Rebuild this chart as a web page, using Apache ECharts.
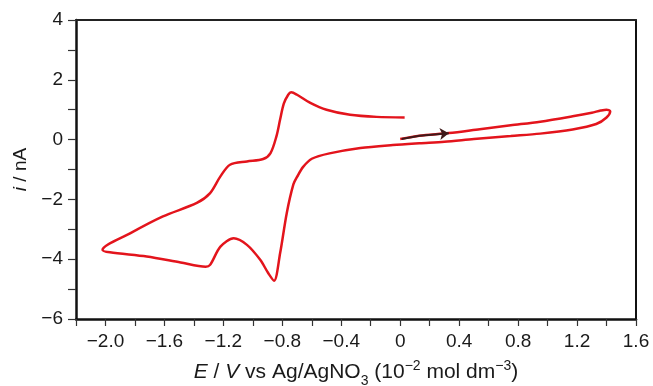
<!DOCTYPE html>
<html>
<head>
<meta charset="utf-8">
<script src="https://cdn.jsdelivr.net/npm/echarts@6/dist/echarts.min.js"></script>
<style>
html,body{margin:0;padding:0;background:#fff;}
#chart{width:653px;height:386px;}
</style>
</head>
<body>
<div id="chart"></div>
<script>
// Cyclic voltammogram trace, in scan order (E / V, i / nA)
var cvPotential = [0.00, 0.13, 0.33, 0.54, 0.75, 0.95, 1.17, 1.30, 1.36, 1.40, 1.425, 1.40, 1.33, 1.17, 0.95, 0.75, 0.50, 0.30, 0.13, -0.05, -0.27, -0.48, -0.60, -0.66, -0.70, -0.725, -0.77, -0.815, -0.856, -0.895, -0.95, -1.04, -1.13, -1.22, -1.29, -1.32, -1.49, -1.72, -1.97, -2.02, -1.83, -1.61, -1.38, -1.29, -1.22, -1.155, -1.04, -0.93, -0.88, -0.84, -0.815, -0.79, -0.76, -0.74, -0.70, -0.61, -0.50, -0.34, -0.16, 0.03];
var cvCurrent   = [0.02, 0.13, 0.22, 0.35, 0.48, 0.60, 0.78, 0.90, 0.97, 1.00, 0.95, 0.74, 0.52, 0.34, 0.20, 0.12, 0.02, -0.07, -0.12, -0.18, -0.28, -0.46, -0.64, -0.92, -1.25, -1.50, -2.46, -3.80, -4.72, -4.47, -4.02, -3.52, -3.30, -3.58, -4.19, -4.25, -4.11, -3.91, -3.77, -3.69, -3.13, -2.57, -2.12, -1.79, -1.23, -0.84, -0.73, -0.65, -0.45, 0.11, 0.67, 1.20, 1.50, 1.58, 1.50, 1.23, 1.00, 0.83, 0.76, 0.74];
// Scan-direction arrow (shaft, then head segment)
var arrowPotential = [0.01, 0.13, 0.27, 0.33];
var arrowCurrent   = [0.02, 0.13, 0.19, 0.215];
// Labelled ticks
var xLabelValues = [-2.0, -1.6, -1.2, -0.8, -0.4, 0, 0.4, 0.8, 1.2, 1.6];
var yLabelValues = [-6, -4, -2, 0, 2, 4];

var cvData = cvPotential.map(function (e, k) { return [e, cvCurrent[k]]; });
var arrowCoords = arrowPotential.map(function (e, k) { return [e, arrowCurrent[k]]; });
var n = arrowCoords.length;

function isLabelled(v, list) {
  for (var k = 0; k < list.length; k++) { if (Math.abs(list[k] - v) < 1e-6) return true; }
  return false;
}
function fmtX(v) {
  if (!isLabelled(v, xLabelValues)) return '';
  if (Math.abs(v) < 1e-9) return '0';
  return v.toFixed(1).replace('-', '\u2212');
}
function fmtY(v) {
  if (!isLabelled(v, yLabelValues)) return '';
  return String(v).replace('-', '\u2212');
}

var FONT = '"Liberation Sans", Arial, Helvetica, sans-serif';
var TXT = '#1a1a1a';
var FS = 19;
var TFS = 21;
var chart = echarts.init(document.getElementById('chart'), null, {renderer: 'canvas'});
chart.setOption({
  animation: false,
  backgroundColor: '#ffffff',
  grid: {left: 76, right: 17, top: 20, bottom: 67, containLabel: false, outerBoundsMode: 'none'},
  xAxis: [{
    type: 'value', min: -2.2, max: 1.6, interval: 0.2, position: 'bottom',
    axisLine: {show: true, onZero: false, lineStyle: {color: '#111', width: 2.5}},
    axisTick: {show: true, inside: false, length: 7, lineStyle: {color: '#333', width: 1.2}},
    axisLabel: {show: true, margin: 13, formatter: fmtX, fontSize: FS, fontFamily: FONT, color: TXT, showMinLabel: true, showMaxLabel: true, hideOverlap: false},
    splitLine: {show: false},
    name: '{i|E} / {i|V} vs Ag/AgNO{sub|3} (10{sup|\u22122} mol dm{sup|\u22123})',
    nameLocation: 'middle', nameGap: 40,
    nameTextStyle: {fontSize: TFS, fontFamily: FONT, color: TXT, lineHeight: 26,
      rich: {
        i: {fontStyle: 'italic', fontSize: TFS, fontFamily: FONT, color: TXT, lineHeight: 26},
        sub: {fontSize: 14, fontFamily: FONT, color: TXT, verticalAlign: 'bottom', lineHeight: 26, padding: [0, 0, -3, 0]},
        sup: {fontSize: 14, fontFamily: FONT, color: TXT, verticalAlign: 'top', lineHeight: 26}
      }}
  }, {
    type: 'value', min: -2.2, max: 1.6, position: 'top',
    axisLine: {show: true, onZero: false, lineStyle: {color: '#222', width: 2}},
    axisTick: {show: false}, axisLabel: {show: false}, splitLine: {show: false}
  }],
  yAxis: [{
    type: 'value', min: -6, max: 4, interval: 1, position: 'left',
    axisLine: {show: true, onZero: false, lineStyle: {color: '#111', width: 2.5}},
    axisTick: {show: true, inside: false, length: 8, lineStyle: {color: '#333', width: 1.2}},
    axisLabel: {show: true, margin: 13, formatter: fmtY, fontSize: FS, fontFamily: FONT, color: TXT, showMinLabel: true, showMaxLabel: true},
    splitLine: {show: false},
    name: '{i|i} / nA', nameLocation: 'middle', nameGap: 44, nameRotate: 90,
    nameTextStyle: {fontSize: FS, fontFamily: FONT, color: TXT,
      rich: {i: {fontStyle: 'italic', fontSize: FS, fontFamily: FONT, color: TXT}}}
  }, {
    type: 'value', min: -6, max: 4, position: 'right',
    axisLine: {show: true, onZero: false, lineStyle: {color: '#111', width: 2}},
    axisTick: {show: false}, axisLabel: {show: false}, splitLine: {show: false}
  }],
  series: [{
    type: 'line', xAxisIndex: 0, yAxisIndex: 0,
    data: cvData, showSymbol: false, symbol: 'none', smooth: 0.3,
    lineStyle: {color: '#e3141c', width: 2.5}, z: 2
  }, {
    type: 'lines', coordinateSystem: 'cartesian2d', xAxisIndex: 0, yAxisIndex: 0,
    polyline: true, symbol: 'none',
    lineStyle: {color: '#3f1a1a', width: 2, opacity: 1},
    data: [{coords: arrowCoords.slice(0, n - 1)}], z: 3
  }, {
    type: 'lines', coordinateSystem: 'cartesian2d', xAxisIndex: 0, yAxisIndex: 0,
    polyline: false,
    symbol: ['none', 'arrow'], symbolSize: 9,
    lineStyle: {color: '#3f1a1a', width: 2, curveness: 0, opacity: 1},
    data: [{coords: [arrowCoords[n - 2], arrowCoords[n - 1]]}], z: 3
  }]
});
</script>
</body>
</html>
